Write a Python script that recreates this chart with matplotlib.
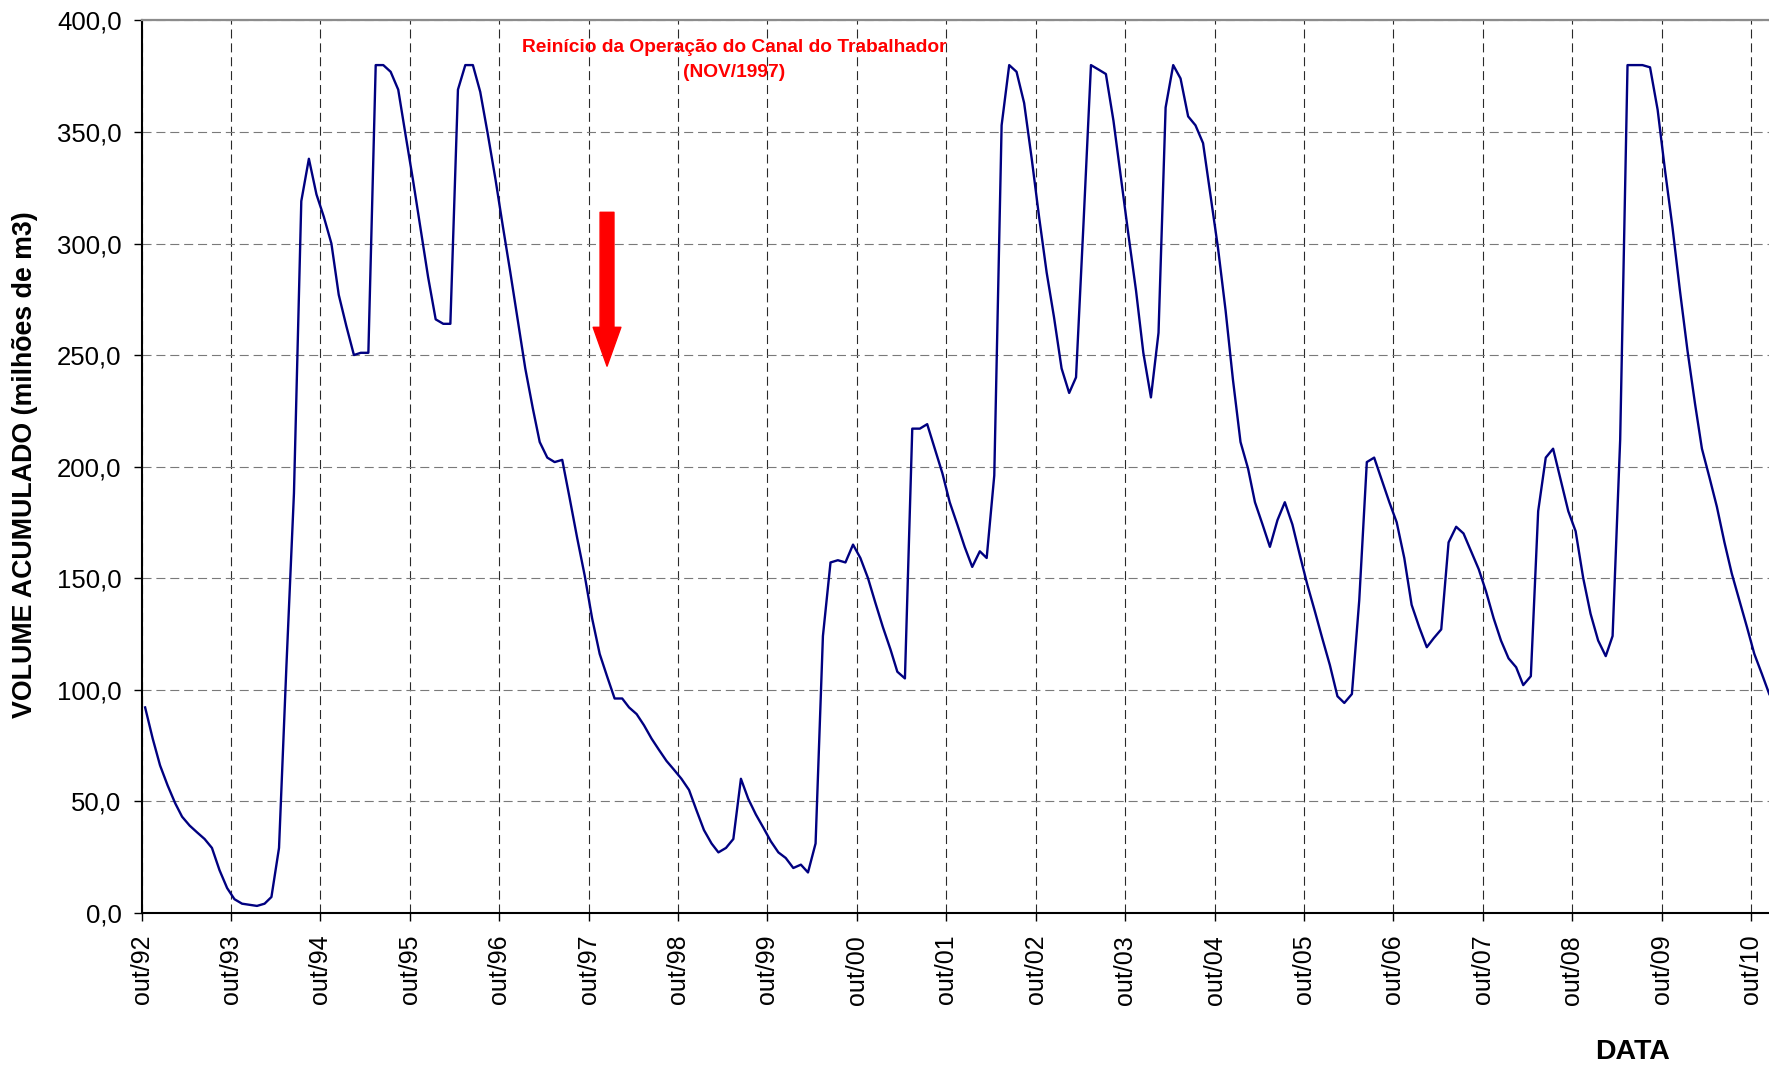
import pandas as pd
import matplotlib
matplotlib.use("Agg")
import matplotlib.pyplot as plt
from matplotlib.ticker import FuncFormatter

plt.rcParams["font.family"] = ["Liberation Sans", "DejaVu Sans"]
plt.rcParams["lines.scale_dashes"] = False

# volume acumulado mensal (milhoes de m3), a partir de out/1992
volume = [
    92, 78, 66, 57, 49, 43, 39, 36, 33, 29, 19, 11,
    6, 4, 3.5, 3, 4, 7, 29, 110, 188, 319, 338, 322,
    312, 300, 277, 263, 250, 251, 251, 380, 380, 377, 369, 348,
    328, 306, 285, 266, 264, 264, 369, 380, 380, 368, 349, 329,
    308, 287, 266, 244, 226, 211, 204, 202, 203, 186, 168, 151,
    132, 116, 106, 96, 96, 92, 89, 84, 78, 73, 68, 64,
    60, 55, 46, 37, 31, 27, 29, 33, 60, 51, 44, 38,
    32, 27, 24.5, 20, 21.5, 18, 31, 124, 157, 158, 157, 165,
    159, 150, 139, 128, 118, 108, 105, 217, 217, 219, 208, 197,
    184, 174, 164, 155, 162, 159, 196, 353, 380, 377, 363, 338,
    312, 287, 267, 244, 233, 240, 310, 380, 378, 376, 355, 329,
    304, 279, 251, 231, 260, 361, 380, 374, 357, 353, 345, 321,
    298, 270, 239, 211, 199, 184, 174, 164, 176, 184, 174, 160,
    147, 135, 123, 111, 97, 94, 98, 140, 202, 204, 194, 184,
    175, 159, 138, 128, 119, 123, 127, 166, 173, 170, 162, 154,
    144, 132, 122, 114, 110, 102, 106, 180, 204, 208, 194, 180,
    171, 150, 134, 122, 115, 124, 212, 380, 380, 380, 379, 360,
    333, 307, 279, 252, 228, 208, 195, 182, 166, 152, 140, 128,
    116, 107, 98,
]

dates = pd.date_range("1992-10-01", periods=len(volume), freq="MS") + pd.Timedelta(days=14)
tick_dates = pd.date_range("1992-10-01", "2010-10-01", freq="12MS")
tick_labels = ["out/" + d.strftime("%y") for d in tick_dates]

y_ticks = [0, 50, 100, 150, 200, 250, 300, 350, 400]

annot_text = "Reinício da Operação do Canal do Trabalhador\n(NOV/1997)"
arrow_date = pd.Timestamp("1997-12-15")
arrow_top = 314
arrow_tip = 245

fig = plt.figure(figsize=(17.69, 10.67), dpi=100)
ax = fig.add_axes([0.0801, 0.1447, 0.9199, 0.8361])

ax.plot(dates, volume, color="#000080", linewidth=1.7, zorder=3)

ax.set_xlim(pd.Timestamp("1992-10-01"), pd.Timestamp("2010-12-14"))
ax.set_ylim(0, 400)

ax.set_xticks(tick_dates)
ax.set_xticklabels(tick_labels, rotation=90, fontsize=18)
ax.set_yticks(y_ticks)
ax.yaxis.set_major_formatter(FuncFormatter(lambda v, p: f"{v:.1f}".replace(".", ",")))
ax.tick_params(axis="y", labelsize=18.5, direction="out", length=5.5, width=1, pad=9)
ax.tick_params(axis="x", direction="out", length=6, width=1, pad=10)

# grade tracejada
ax.yaxis.grid(True, color="#7a7a7a", linewidth=0.8, linestyle=(0, (6.5, 3.5)))
ax.xaxis.grid(True, color="#2a2a2a", linewidth=0.8, linestyle=(0, (6.5, 3.5)))
ax.set_axisbelow(True)

ax.spines["right"].set_visible(False)
ax.spines["top"].set_color("#8c8c8c")
ax.spines["top"].set_linewidth(1.6)
ax.spines["left"].set_linewidth(1.5)
ax.spines["bottom"].set_linewidth(1.5)

fig.text(0.0141, 0.565, "VOLUME ACUMULADO (milhões de m3)", rotation=90,
         ha="center", va="center", fontsize=19.3, fontweight="bold")
fig.text(0.9226, 0.0141, "DATA", ha="center", va="center",
         fontsize=20.5, fontweight="bold")

ax.text(0.364, 0.956, annot_text, transform=ax.transAxes, ha="center",
        va="center", multialignment="center", color="red",
        fontsize=13.8, fontweight="bold", linespacing=1.6)

ax.annotate("", xy=(arrow_date, arrow_tip), xytext=(arrow_date, arrow_top),
            arrowprops=dict(arrowstyle="simple,head_length=1.4,head_width=1.0,tail_width=0.5",
                            color="red", mutation_scale=20, shrinkA=0, shrinkB=0),
            zorder=4)

fig.savefig("out.png", dpi=100)
